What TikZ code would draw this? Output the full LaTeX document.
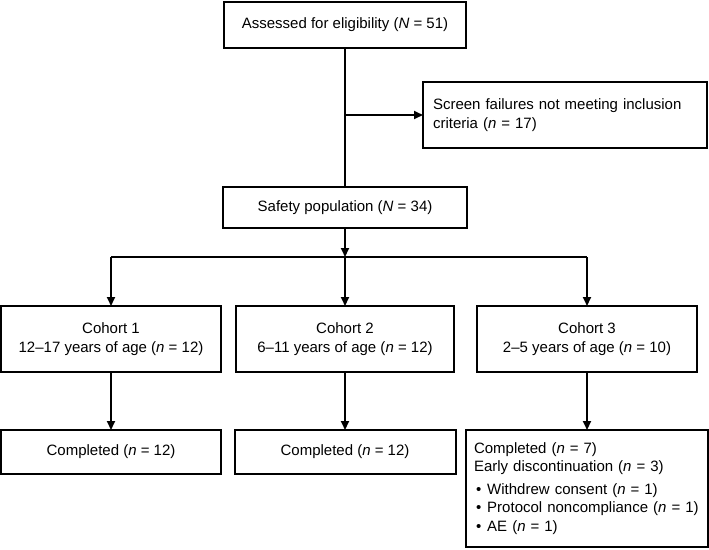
\documentclass[tikz,border=0pt]{standalone}
\usepackage{fontspec}
\setmainfont{Liberation Sans}
\usetikzlibrary{arrows.meta, positioning}

\tikzset{
	box/.style = {draw, line width=2pt, align=center, inner sep=0pt,
		outer sep=0pt, font=\fontsize{15pt}{18.5pt}\selectfont},
	leftbox/.style = {box, align=left, inner xsep=10pt},
	flow/.style = {line width=2pt, -{Triangle[length=9pt, width=8pt]}}
}

\begin{document}
\begin{tikzpicture}
	\useasboundingbox (0,0) rectangle (709pt,-549pt);
	\node (assess) [box, minimum width=242pt, minimum height=46pt]
		at (345pt,-25pt) {Assessed for eligibility (\textit{N} = 51)};
	\node (screen) [leftbox, text width=264pt, minimum height=66pt,
		below right = 34pt and 78pt of assess.south]
		{Screen failures not meeting inclusion\\criteria (\textit{n} = 17)};
	\node (safety) [box, below = 139pt of assess, minimum width=244pt,
		minimum height=41pt] {Safety population (\textit{N} = 34)};
	\coordinate (branch) at ([yshift=-29pt]safety.south);
	\node (cohort2) [box, below = 78pt of safety, minimum width=218pt,
		minimum height=66pt] {Cohort 2\\6--11 years of age (\textit{n} = 12)};
	\node (cohort1) [box, left = 15pt of cohort2, minimum width=220pt,
		minimum height=66pt] {Cohort 1\\12--17 years of age (\textit{n} = 12)};
	\node (cohort3) [box, right = 23pt of cohort2, minimum width=220pt,
		minimum height=66pt] {Cohort 3\\2--5 years of age (\textit{n} = 10)};
	\node (done1) [box, below = 58pt of cohort1, minimum width=220pt,
		minimum height=44pt] {Completed (\textit{n} = 12)};
	\node (done2) [box, below = 58pt of cohort2, minimum width=221pt,
		minimum height=44pt] {Completed (\textit{n} = 12)};
	\node (done3) [leftbox, below = 58pt of cohort3, inner xsep=8pt,
		text width=226pt, minimum height=117pt]
		{Completed (\textit{n} = 7)\\
		Early discontinuation (\textit{n} = 3)\\[4pt]
		\hspace{2pt}\textbullet\hspace{6pt}Withdrew consent (\textit{n} = 1)\\
		\hspace{2pt}\textbullet\hspace{6pt}Protocol noncompliance (\textit{n} = 1)\\
		\hspace{2pt}\textbullet\hspace{6pt}AE (\textit{n} = 1)};
	\coordinate (split) at (assess.south |- screen.west);
	\draw [line width=2pt] (assess) -- (safety);
	\draw [flow] (split) -- (screen);
	\draw [flow] (safety) -- (branch);
	\draw [line width=2pt] (cohort1.north |- branch) -- (cohort3.north |- branch);
	\foreach \c in {cohort1, cohort2, cohort3}
		\draw [flow] (\c.north |- branch) -- (\c);
	\draw [flow] (cohort1) -- (done1);
	\draw [flow] (cohort2) -- (done2);
	\draw [flow] (cohort3) -- (done3);
\end{tikzpicture}
\end{document}
